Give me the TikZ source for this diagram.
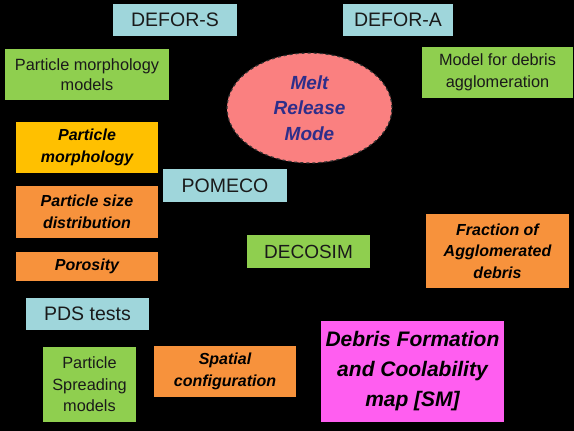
\documentclass[tikz,border=0pt]{standalone}
\usepackage{fontspec}
\setmainfont{Liberation Sans}
\usetikzlibrary{shapes.geometric}
\definecolor{cblue}{HTML}{9FD6DB}
\definecolor{cgreen}{HTML}{8FCF4F}
\definecolor{corange}{HTML}{F7923C}
\definecolor{cyellow}{HTML}{FFC000}
\definecolor{cpink}{HTML}{FA8080}
\definecolor{cmag}{HTML}{FF5EF0}
\definecolor{cnavy}{HTML}{2E2E8A}
\definecolor{ctext}{HTML}{1A1A1A}
\tikzset{
  box/.style={inner sep=0pt, align=center, text=ctext},
  bluebox/.style={box, fill=cblue, font=\fontsize{19.5}{22}\selectfont},
  greenbox/.style={box, fill=cgreen, font=\fontsize{16.3}{21.5}\selectfont},
  orangebox/.style={box, fill=corange, text=black, font=\fontsize{16}{21.5}\selectfont\bfseries\itshape},
  yellowbox/.style={orangebox, fill=cyellow},
  magbox/.style={box, fill=cmag, text=black, font=\fontsize{21}{30}\selectfont\bfseries\itshape},
  meltshape/.style={ellipse, inner sep=0pt, fill=cpink, draw=black!80, dashed, line width=1.2pt, text=cnavy, align=center, font=\fontsize{19}{25.5}\selectfont\bfseries\itshape}
}
\begin{document}
\begin{tikzpicture}[x=1pt,y=-1pt]
\fill[black] (0,0) rectangle (574,431);
\useasboundingbox (0,0) rectangle (574,431);
\node[bluebox, minimum width=124pt, minimum height=32pt] (defors) at (175,20) {DEFOR-S};
\node[bluebox, minimum width=110pt, minimum height=32pt] (defora) at (398,20) {DEFOR-A};
\node[greenbox, minimum width=164pt, minimum height=51pt, font=\fontsize{16.3}{19.5}\selectfont] (pmm) at (87,74.5) {Particle morphology\\models};
\node[greenbox, minimum width=151pt, minimum height=51pt] (mda) at (497.5,72.5) {Model for debris\\agglomeration};
\node[meltshape, minimum width=165pt, minimum height=110pt] (melt) at (309.5,108) {Melt\\Release\\Mode};
\node[yellowbox, minimum width=142pt, minimum height=51pt] (pmorph) at (87,147.5) {Particle\\morphology};
\node[bluebox, minimum width=124pt, minimum height=33pt] (pomeco) at (225,185.5) {POMECO};
\node[orangebox, minimum width=142pt, minimum height=52pt] (psd) at (87,212) {Particle size\\distribution};
\node[greenbox, minimum width=123pt, minimum height=33pt, font=\fontsize{19}{22}\selectfont] (decosim) at (308.5,251.5) {DECOSIM};
\node[orangebox, minimum width=143pt, minimum height=74pt] (fad) at (497.5,251) {Fraction of\\Agglomerated\\debris};
\node[orangebox, minimum width=142pt, minimum height=29pt] (porosity) at (87,266.5) {Porosity};
\node[bluebox, minimum width=123pt, minimum height=32pt] (pds) at (87.5,314) {PDS tests};
\node[greenbox, minimum width=93pt, minimum height=75pt] (psm) at (89.5,384.5) {Particle\\Spreading\\models};
\node[orangebox, minimum width=142pt, minimum height=51pt] (spatial) at (225,371.5) {Spatial\\configuration};
\node[magbox, minimum width=183pt, minimum height=101pt] (dfcm) at (412.5,371.5) {Debris Formation\\and Coolability\\map [SM]};
\end{tikzpicture}
\end{document}
